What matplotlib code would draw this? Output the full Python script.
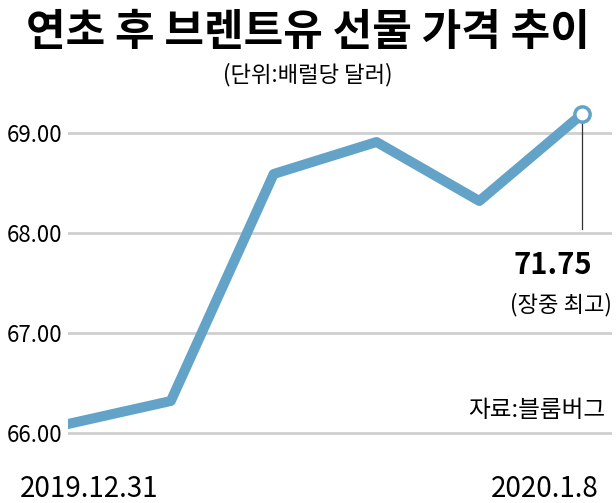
import matplotlib.pyplot as plt
from matplotlib import font_manager

plt.rcParams['font.family'] = ['Noto Sans CJK KR', 'DejaVu Sans']

# data
dates = ['2019.12.31', '2020.1.2', '2020.1.3', '2020.1.6', '2020.1.7', '2020.1.8']
prices = [66.09, 66.32, 68.59, 68.91, 68.32, 69.19]
yticks = [66.00, 67.00, 68.00, 69.00]
peak_label = '71.75'

names = {f.name for f in font_manager.fontManager.ttflist}
narrow = 'Liberation Sans Narrow' if 'Liberation Sans Narrow' in names else 'Noto Sans CJK KR'

line_color = '#63a3c7'
grid_color = '#cfcfcf'

fig = plt.figure(figsize=(6.16, 5.03), dpi=100)
ax = fig.add_axes([68/616, 53/503, 544/616, 350/503])

x = list(range(len(prices)))
ax.plot(x, prices, color=line_color, lw=7.2, solid_joinstyle='round',
        solid_capstyle='round', zorder=3)
ax.plot(x[-1], prices[-1], 'o', ms=11, mfc='white', mec=line_color, mew=2.5, zorder=4)

ax.set_xlim(0, 5.29)
ax.set_ylim(65.83, 69.33)
ax.set_yticks(yticks)
ax.set_yticklabels([f'{v:.2f}' for v in yticks], family=narrow, fontsize=16)
ax.tick_params(axis='y', length=0, pad=4)
ax.set_xticks([])
for v in yticks:
    ax.axhline(v, color=grid_color, lw=2, zorder=1)
for s in ax.spines.values():
    s.set_visible(False)

# x labels only at ends
ax.text(x[0] + 0.21, 65.44, dates[0], ha='center', va='center', fontsize=20, family=narrow)
ax.text(x[-1] + 0.16, 65.44, dates[-1], ha='right', va='center', fontsize=20, family=narrow)

# annotation
ax.plot([x[-1], x[-1]], [prices[-1], 68.04], color='#333333', lw=0.9, zorder=2)
ax.text(x[-1] + 0.1, 67.68, peak_label, ha='right', va='center', fontsize=21,
        fontweight='bold', family=narrow)
ax.text(5.29, 67.28, '(장중 최고)', ha='right', va='center', fontsize=16)
ax.text(5.22, 66.22, '자료:블룸버그', ha='right', va='center', fontsize=17)

fig.text(0.5, 1 - 32/503, '연초 후 브렌트유 선물 가격 추이', ha='center', va='center',
         fontsize=31, fontweight='bold')
fig.text(0.5, 1 - 75/503, '(단위:배럴당 달러)', ha='center', va='center', fontsize=16)

fig.savefig('out.png', dpi=100)
